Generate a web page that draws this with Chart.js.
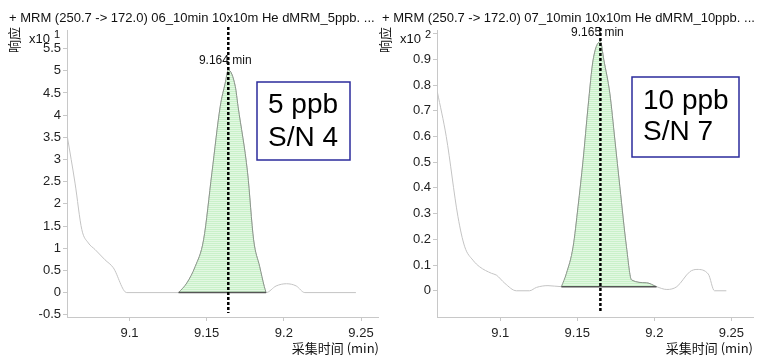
<!DOCTYPE html>
<html>
<head>
<meta charset="utf-8">
<script src="https://cdn.jsdelivr.net/npm/chart.js@4.4.1/dist/chart.umd.min.js"></script>
<style>
  html, body { margin: 0; padding: 0; background: #fff; width: 765px; height: 362px; overflow: hidden; }
  .panel { position: absolute; top: 0; height: 362px; }
  #pl { left: 0; width: 382px; }
  #pr { left: 370px; width: 395px; }
  canvas { display: block; }
</style>
</head>
<body>
<div class="panel" id="pl"><canvas id="cl" width="382" height="362"></canvas></div>
<div class="panel" id="pr"><canvas id="cr" width="395" height="362"></canvas></div>
<script>
// ---- 5 ppb injection (response in x10^1 counts) ----
const leftTime = [9.0597, 9.0647, 9.0691, 9.0733, 9.0777, 9.0841, 9.0895, 9.0982,
                  9.1318, 9.1372, 9.1426, 9.1480, 9.1534, 9.1588, 9.1620, 9.1640, 9.1685,
                  9.1703, 9.1765, 9.1804, 9.1843, 9.1873, 9.1885,
                  9.1950, 9.2017, 9.2080, 9.2136, 9.2467];
const leftResp = [3.52, 2.47, 1.42, 1.12, 0.97, 0.74, 0.56, 0,
                  0, 0.22, 0.59, 1.19, 2.70, 4.20, 4.72, 5.02, 4.65,
                  4.20, 2.70, 1.19, 0.59, 0.14, 0,
                  0.15, 0.20, 0.15, 0, 0];
const leftPeakFrom = 8, leftPeakTo = 22;      // integrated peak range (indices)
const leftBase = 0;                            // integration baseline
const leftRT = 9.164;
const leftXTicks = [9.1, 9.15, 9.2, 9.25];
const leftYTicks = [-0.5, 0, 0.5, 1, 1.5, 2, 2.5, 3, 3.5, 4, 4.5, 5, 5.5];
const leftYLabels = ['-0.5', '0', '0.5', '1', '1.5', '2', '2.5', '3', '3.5', '4', '4.5', '5', '5.5'];

// ---- 10 ppb injection (response in x10^2 counts) ----
const rightTime = [9.0592, 9.0650, 9.0726, 9.0770, 9.0823, 9.0867, 9.0943, 9.0975, 9.1030,
                   9.1105, 9.1190, 9.1235, 9.1310,
                   9.1397, 9.1430, 9.1473, 9.1505, 9.1538, 9.1570, 9.1603, 9.1650, 9.1672,
                   9.1711, 9.1744, 9.1776, 9.1819, 9.1852, 9.1949, 9.2014,
                   9.2081, 9.2146, 9.2230, 9.2276, 9.2350, 9.2390, 9.2467];
const rightResp = [0.774, 0.600, 0.288, 0.171, 0.119, 0.093, 0.068, 0.061, 0.029,
                   0, 0, 0.013, 0.020,
                   0.016, 0.068, 0.171, 0.327, 0.509, 0.716, 0.898, 0.969, 0.898,
                   0.768, 0.586, 0.405, 0.171, 0.042, 0.031, 0.016,
                   0.005, 0.016, 0.074, 0.083, 0.065, 0, 0];
const rightPeakFrom = 13, rightPeakTo = 28;
const rightBase = 0.016;
const rightRT = 9.165;
const rightXTicks = [9.1, 9.15, 9.2, 9.25];
const rightYTicks = [0, 0.1, 0.2, 0.3, 0.4, 0.5, 0.6, 0.7, 0.8, 0.9, 1.0];
const rightYLabels = ['0', '0.1', '0.2', '0.3', '0.4', '0.5', '0.6', '0.7', '0.8', '0.9', ''];

const FONT = '"Liberation Sans", Arial, sans-serif';
const CJK = '"Noto Sans CJK SC", "Liberation Sans", sans-serif';

// light green hatched fill for the integrated area
function hatch() {
  const c = document.createElement('canvas');
  c.width = 4; c.height = 2;
  const g = c.getContext('2d');
  g.fillStyle = '#e2f8e2'; g.fillRect(0, 0, 4, 2);
  g.fillStyle = '#c9f1c9'; g.fillRect(0, 1, 4, 1);
  return g.createPattern(c, 'repeat');
}

function pts(t, r, a, b) {
  const out = [];
  for (let i = a; i <= b; i++) out.push({ x: t[i], y: r[i] });
  return out;
}

function makePanel(id, p) {
  const ctx = document.getElementById(id).getContext('2d');
  const decor = {
    id: 'decor',
    afterDatasetsDraw(chart) {
      const g = chart.ctx, xs = chart.scales.x;
      const px = xs.getPixelForValue(p.rt);
      g.save();
      g.strokeStyle = '#000'; g.lineWidth = 2.5; g.setLineDash([3, 2]);
      g.beginPath(); g.moveTo(px, p.dashTop); g.lineTo(px, 313); g.stroke();
      g.restore();
    },
    afterDraw(chart) {
      const g = chart.ctx, xs = chart.scales.x, ys = chart.scales.y;
      g.save();
      g.fillStyle = '#111';
      g.textBaseline = 'alphabetic'; g.textAlign = 'left';
      g.font = '13px ' + FONT;
      g.fillText(p.title, p.titleX, 22);
      // axis exponent
      g.fillText('x10', p.expX, 43);
      g.font = '11px ' + FONT;
      g.fillText(p.exp, p.expX + 25, 38);
      // y axis title
      g.save();
      g.translate(p.yTitleX, 40); g.rotate(-Math.PI / 2);
      g.font = '13px ' + CJK; g.textAlign = 'center'; g.textBaseline = 'middle';
      g.fillText('响应', 0, 0);
      g.restore();
      // x axis title
      g.font = '13px ' + CJK; g.textAlign = 'right'; g.textBaseline = 'middle';
      g.fillText('采集时间 (min)', p.xTitleRight, 348);
      // retention time label
      const px = xs.getPixelForValue(p.rt);
      const apex = Math.max(...p.resp);
      const py = ys.getPixelForValue(apex);
      g.font = '12px ' + FONT; g.textAlign = 'center'; g.textBaseline = 'middle';
      g.fillText(p.rt.toFixed(3) + ' min', px - 3, py - 9);
      // concentration / S/N box
      const b = p.box;
      g.fillStyle = '#fff'; g.fillRect(b.x, b.y, b.w, b.h);
      g.strokeStyle = '#2b2b9c'; g.lineWidth = 1.5;
      g.strokeRect(b.x, b.y, b.w, b.h);
      g.fillStyle = '#000'; g.font = '28px ' + FONT;
      g.textAlign = 'left'; g.textBaseline = 'middle';
      g.fillText(p.boxLines[0], b.x + 11, b.l1);
      g.fillText(p.boxLines[1], b.x + 11, b.l2);
      g.restore();
    }
  };

  const tickFont = { family: FONT, size: 13 };
  return new Chart(ctx, {
    type: 'line',
    data: {
      datasets: [
        {
          data: pts(p.time, p.resp, 0, p.time.length - 1),
          borderColor: '#c4c4c4', borderWidth: 1, pointRadius: 0,
          cubicInterpolationMode: 'monotone', fill: false, order: 3
        },
        {
          data: pts(p.time, p.resp, p.from, p.to),
          borderColor: '#8a968a', borderWidth: 1, pointRadius: 0,
          cubicInterpolationMode: 'monotone',
          fill: { value: p.base }, backgroundColor: hatch(), order: 2
        },
        {
          data: [{ x: p.time[p.from], y: p.base }, { x: p.time[p.to], y: p.base }],
          borderColor: '#555', borderWidth: 1.5, pointRadius: 0, fill: false, order: 1
        }
      ]
    },
    options: {
      responsive: false, animation: false, devicePixelRatio: 1,
      layout: { padding: { top: 30, right: p.padRight, left: 0, bottom: 0 } },
      plugins: { legend: { display: false }, tooltip: { enabled: false } },
      scales: {
        x: {
          type: 'linear', min: p.xMin, max: p.xMax,
          afterBuildTicks: s => { s.ticks = p.xTicks.map(v => ({ value: v })); },
          afterFit: s => { s.height = 45; },
          ticks: { font: tickFont, color: '#222', padding: 5, maxRotation: 0,
                   callback: v => String(v) },
          grid: { drawOnChartArea: false, drawTicks: true, tickLength: 4, color: '#c8c8c8' },
          border: { display: true, color: '#c8c8c8' }
        },
        y: {
          type: 'linear', min: p.yMin, max: p.yMax,
          afterBuildTicks: s => { s.ticks = p.yTicks.map(v => ({ value: v })); },
          afterFit: s => { s.width = 67; },
          ticks: { font: tickFont, color: '#222', padding: 2,
                   callback: (v, i) => p.yLabels[i] },
          grid: { drawOnChartArea: false, drawTicks: true, tickLength: 4, color: '#c8c8c8' },
          border: { display: true, color: '#c8c8c8' }
        }
      }
    },
    plugins: [decor]
  });
}

makePanel('cl', {
  time: leftTime, resp: leftResp, from: leftPeakFrom, to: leftPeakTo, base: leftBase,
  rt: leftRT, xTicks: leftXTicks, yTicks: leftYTicks, yLabels: leftYLabels,
  xMin: 9.0595, xMax: 9.261, yMin: -0.55, yMax: 5.92, padRight: 4,
  title: '+ MRM (250.7 -> 172.0) 06_10min 10x10m He dMRM_5ppb. ...',
  titleX: 9, exp: '1', expX: 29, yTitleX: 14, xTitleRight: 379, dashTop: 27,
  box: { x: 257, y: 82, w: 93, h: 78, l1: 105, l2: 138 },
  boxLines: ['5 ppb', 'S/N 4']
});

makePanel('cr', {
  time: rightTime, resp: rightResp, from: rightPeakFrom, to: rightPeakTo, base: rightBase,
  rt: rightRT, xTicks: rightXTicks, yTicks: rightYTicks, yLabels: rightYLabels,
  xMin: 9.059, xMax: 9.264, yMin: -0.102, yMax: 1.014, padRight: 12,
  title: '+ MRM (250.7 -> 172.0) 07_10min 10x10m He dMRM_10ppb. ...',
  titleX: 12, exp: '2', expX: 30, yTitleX: 15, xTitleRight: 383, dashTop: 28,
  box: { x: 262, y: 77, w: 107, h: 80, l1: 101, l2: 132 },
  boxLines: ['10 ppb', 'S/N 7']
});
</script>
</body>
</html>
